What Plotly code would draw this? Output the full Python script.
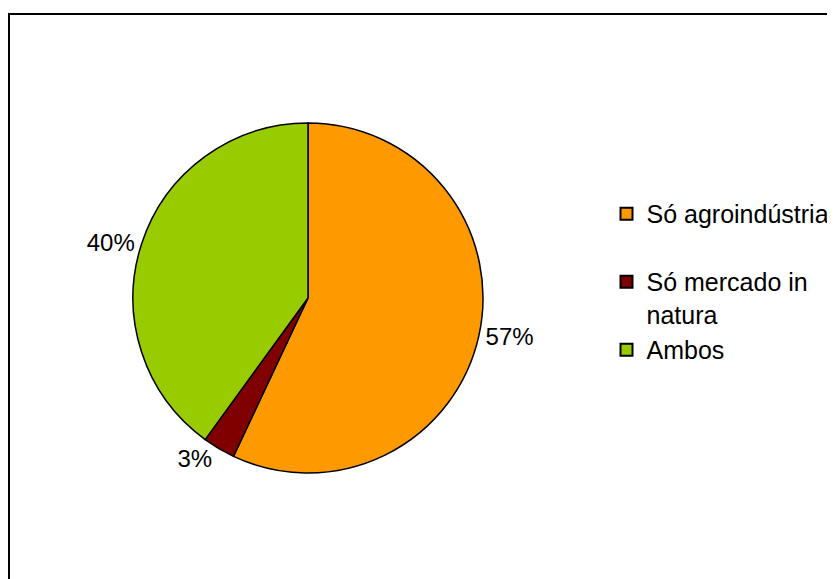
import plotly.graph_objects as go

categories = ["Só agroindústria", "Só mercado in<br>natura", "Ambos"]
values = [57, 3, 40]
colors = ["#FF9900", "#800000", "#99CC00"]

W, H = 835, 579
OFF = 8  # page body margin of the browser
FONT = "Liberation Sans, Arial, sans-serif"

# pad single-line legend entries to two lines so entries are evenly spaced
legend_labels = [c if "<br>" in c else c + "<br> " for c in categories]

cx, cy, r = 308 - OFF, 298 - OFF, 175

fig = go.Figure(
    go.Pie(
        labels=legend_labels,
        values=values,
        sort=False,
        direction="clockwise",
        rotation=0,
        marker=dict(colors=colors, line=dict(color="black", width=1.5)),
        texttemplate="%{percent:.0%}",
        textposition="outside",
        textfont=dict(family=FONT, size=24, color="black"),
        domain=dict(x=[(cx - r) / W, (cx + r) / W], y=[1 - (cy + r) / H, 1 - (cy - r) / H]),
        hoverinfo="label+percent",
    )
)

fig.update_layout(
    width=W,
    height=H,
    margin=dict(l=0, r=0, t=0, b=0),
    paper_bgcolor="white",
    plot_bgcolor="white",
    font=dict(family=FONT, size=24, color="black"),
    showlegend=True,
    legend=dict(
        x=598.5 / W,
        y=0.684,
        xanchor="left",
        yanchor="top",
        valign="top",
        font=dict(family=FONT, size=25, color="black"),
        bgcolor="rgba(0,0,0,0)",
        itemsizing="constant",
    ),
    shapes=[
        dict(
            type="rect",
            xref="paper",
            yref="paper",
            x0=1 / W,
            x1=1.05,
            y0=-0.05,
            y1=1 - 6 / H,
            line=dict(color="black", width=2),
            fillcolor="rgba(0,0,0,0)",
            layer="above",
        )
    ],
)

fig.write_html("out.html")
